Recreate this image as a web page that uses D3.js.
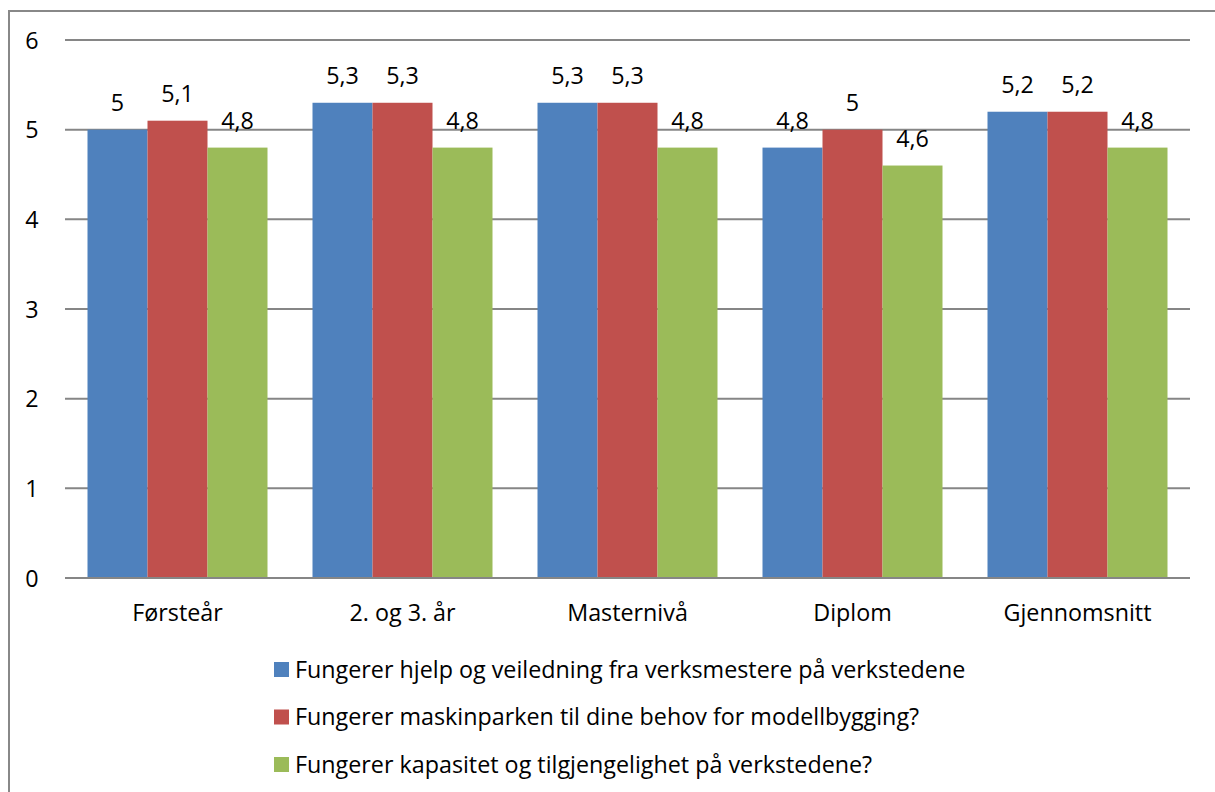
<!DOCTYPE html>
<html><head><meta charset="utf-8">
<script src="https://cdn.jsdelivr.net/npm/d3@7"></script>
<style>body{margin:0;background:#fff}svg{display:block}text{font-family:"Open Sans",sans-serif;fill:#000}</style>
</head><body><svg id="c" width="1215" height="792"></svg>
<script>
const categories = ["Førsteår","2. og 3. år","Masternivå","Diplom","Gjennomsnitt"];
const seriesNames = ["Fungerer hjelp og veiledning fra verksmestere på verkstedene","Fungerer maskinparken til dine behov for modellbygging?","Fungerer kapasitet og tilgjengelighet på verkstedene?"];
const hjelp = [5,5.3,5.3,4.8,5.2];
const maskin = [5.1,5.3,5.3,5,5.2];
const kapasitet = [4.8,4.8,4.8,4.6,4.8];
const colors = ["#4F81BD","#C0504D","#9BBB59"];
const yTicks = [0,1,2,3,4,5,6];
const series = [hjelp, maskin, kapasitet];
const FS = 23.3;

const svg = d3.select("#c");
svg.append("rect").attr("x",9).attr("y",11).attr("width",1230).attr("height",800).attr("fill","none").attr("stroke","#888").attr("stroke-width",2);

const x0 = d3.scaleBand().domain(categories).range([65,1190]).paddingInner(0.2).paddingOuter(0.1);
const x1 = d3.scaleBand().domain([0,1,2]).range([0,x0.bandwidth()]);
const y = d3.scaleLinear().domain([0,6]).range([578,40]);

const grid = svg.append("g");
grid.selectAll("line").data(yTicks).join("line")
  .attr("x1",65).attr("x2",1190).attr("y1",d=>y(d)).attr("y2",d=>y(d))
  .attr("stroke","#868686").attr("stroke-width",2);
const yAxis = d3.axisLeft(y).tickValues(yTicks).tickFormat(d3.format("d")).tickSize(0).tickPadding(0);
const ya = svg.append("g").attr("transform","translate(32,0)").call(yAxis);
ya.select(".domain").remove();
ya.selectAll("text").attr("font-size",FS).attr("font-family","Open Sans").attr("fill","#000").attr("text-anchor","middle").attr("dy","0.35em");

const groups = svg.append("g").selectAll("g").data(categories).join("g")
  .attr("transform",c=>`translate(${x0(c)},0)`);
series.forEach((s,si)=>{
  groups.append("rect")
    .attr("x",x1(si)).attr("width",x1.bandwidth())
    .attr("y",(c,i)=>y(s[i])).attr("height",(c,i)=>y(0)-y(s[i]))
    .attr("fill",colors[si]);
  groups.append("text")
    .attr("x",x1(si)+x1.bandwidth()/2).attr("y",(c,i)=>y(s[i])-19)
    .attr("text-anchor","middle").attr("font-size",FS)
    .text((c,i)=>String(s[i]).replace(".",","));
});
svg.append("line").attr("x1",65).attr("x2",1190).attr("y1",y(0)).attr("y2",y(0)).attr("stroke","#868686").attr("stroke-width",2);

const xAxis = d3.axisBottom(x0).tickSize(0).tickPadding(0);
const xa = svg.append("g").attr("transform","translate(0,613)").call(xAxis);
xa.select(".domain").remove();
xa.selectAll("text").attr("font-size",FS).attr("font-family","Open Sans").attr("fill","#000").attr("dy","0.35em");

const leg = svg.append("g").selectAll("g").data(seriesNames).join("g")
  .attr("transform",(d,i)=>`translate(274,${662+i*47.5})`);
leg.append("rect").attr("width",15).attr("height",15).attr("fill",(d,i)=>colors[i]);
leg.append("text").attr("x",21).attr("y",7.5).attr("dy","0.35em").attr("font-size",FS).text(d=>d);
</script></body></html>
